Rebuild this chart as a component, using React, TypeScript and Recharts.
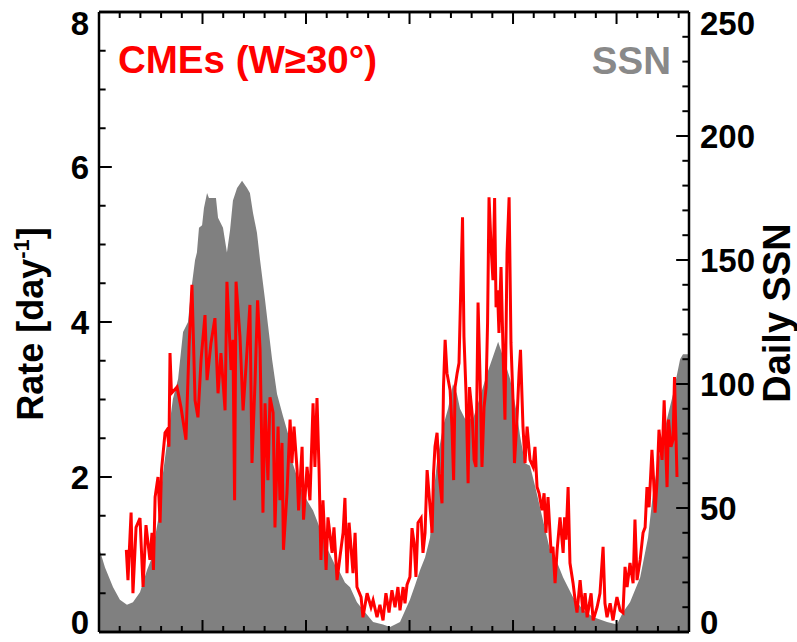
import React from 'react';
import { ComposedChart, Area, Line, XAxis, YAxis, ReferenceLine } from 'recharts';

// Daily sunspot number (smoothed envelope)
const ssnYears = [
  1995.0, 1995.29, 1995.68, 1996.01, 1996.35, 1996.64, 1996.98, 1997.32, 1997.51, 1997.85,
  1998.09, 1998.33, 1998.57, 1998.82, 1999.06, 1999.3, 1999.44, 1999.64, 1999.73, 1999.83,
  1999.98, 2000.07, 2000.22, 2000.31, 2000.51, 2000.65, 2000.75, 2000.99, 2001.18, 2001.33,
  2001.47, 2001.67, 2001.91, 2002.15, 2002.29, 2002.44, 2002.63, 2002.78, 2003.02, 2003.16,
  2003.36, 2003.6, 2003.89, 2004.13, 2004.32, 2004.71, 2005.05, 2005.34, 2005.53, 2006.01,
  2006.4, 2006.64, 2006.88, 2007.13, 2007.46, 2007.75, 2008.24, 2008.72, 2009.06, 2009.54,
  2010.02, 2010.27, 2010.51, 2010.75, 2010.99, 2011.14, 2011.33, 2011.62, 2011.86, 2012.1,
  2012.29, 2012.44, 2012.68, 2013.07, 2013.41, 2013.74, 2014.03, 2014.28, 2014.52, 2014.86,
  2015.19, 2015.34, 2015.58, 2015.82, 2016.06, 2016.45, 2016.79, 2017.13, 2017.42, 2017.9,
  2018.38, 2018.86, 2019.54, 2020.02, 2020.31, 2020.65, 2021.14, 2021.52, 2021.76, 2022.1,
  2022.44, 2022.73, 2023.07, 2023.21, 2023.5,
];
const ssnValues = [
  34, 26, 18, 13, 11, 12, 16, 25, 29, 45,
  64, 79, 94, 102, 121, 125, 137, 150, 153, 163,
  164, 171, 177, 175, 175, 175, 167, 163, 153, 162,
  174, 179, 182, 179, 177, 169, 161, 150, 134, 124,
  110, 96, 87, 80, 69, 59, 53, 49, 45, 34,
  27, 24, 20, 18, 12, 9, 4, 3, 2, 4,
  13, 19, 25, 30, 38, 54, 69, 83, 90, 100,
  96, 90, 86, 86, 95, 104, 111, 117, 111, 102,
  88, 79, 68, 67, 59, 45, 33, 28, 22, 14,
  9, 6, 4, 3, 8, 12, 22, 38, 56, 73,
  86, 96, 110, 112, 112,
];

// CME rate, width >= 30 degrees
const cmeYears = [
  1996.32, 1996.4, 1996.55, 1996.64, 1996.79, 1996.98, 1997.13, 1997.27, 1997.46, 1997.56,
  1997.63, 1997.71, 1997.85, 1997.95, 1998.02, 1998.19, 1998.29, 1998.38, 1998.43, 1998.5,
  1998.77, 1998.96, 1999.2, 1999.35, 1999.49, 1999.64, 1999.78, 1999.93, 2000.12, 2000.22,
  2000.41, 2000.6, 2000.75, 2000.89, 2001.09, 2001.18, 2001.38, 2001.47, 2001.55, 2001.62,
  2001.81, 2001.96, 2002.1, 2002.29, 2002.39, 2002.54, 2002.66, 2002.78, 2002.92, 2003.02,
  2003.16, 2003.26, 2003.41, 2003.5, 2003.65, 2003.74, 2003.84, 2003.91, 2004.08, 2004.23,
  2004.32, 2004.42, 2004.57, 2004.64, 2004.81, 2004.88, 2005.05, 2005.19, 2005.34, 2005.43,
  2005.53, 2005.63, 2005.72, 2005.82, 2005.97, 2006.06, 2006.26, 2006.35, 2006.5, 2006.64,
  2006.79, 2006.88, 2006.98, 2007.08, 2007.27, 2007.37, 2007.46, 2007.66, 2007.75, 2007.95,
  2008.14, 2008.24, 2008.43, 2008.57, 2008.72, 2008.86, 2009.01, 2009.15, 2009.3, 2009.44,
  2009.54, 2009.69, 2009.78, 2009.88, 2010.02, 2010.12, 2010.22, 2010.31, 2010.41, 2010.56,
  2010.65, 2010.75, 2010.85, 2010.94, 2011.09, 2011.16, 2011.23, 2011.33, 2011.43, 2011.57,
  2011.64, 2011.72, 2011.81, 2011.96, 2012.05, 2012.13, 2012.2, 2012.3, 2012.39, 2012.49,
  2012.56, 2012.63, 2012.73, 2012.83, 2012.9, 2013.02, 2013.12, 2013.21, 2013.31, 2013.41,
  2013.5, 2013.6, 2013.7, 2013.77, 2013.84, 2013.94, 2014.03, 2014.11, 2014.18, 2014.25,
  2014.32, 2014.42, 2014.52, 2014.61, 2014.71, 2014.81, 2014.9, 2015.0, 2015.07, 2015.19,
  2015.29, 2015.36, 2015.48, 2015.58, 2015.68, 2015.82, 2015.97, 2016.06, 2016.16, 2016.26,
  2016.4, 2016.5, 2016.59, 2016.69, 2016.84, 2016.93, 2017.03, 2017.13, 2017.27, 2017.42,
  2017.49, 2017.56, 2017.66, 2017.75, 2017.9, 2018.0, 2018.09, 2018.24, 2018.38, 2018.48,
  2018.58, 2018.77, 2018.87, 2019.06, 2019.2, 2019.35, 2019.44, 2019.54, 2019.69, 2019.83,
  2019.93, 2020.02, 2020.17, 2020.31, 2020.41, 2020.51, 2020.65, 2020.8, 2020.89, 2020.99,
  2021.14, 2021.28, 2021.38, 2021.47, 2021.57, 2021.71, 2021.79, 2021.86, 2021.96, 2022.05,
  2022.2, 2022.3, 2022.44, 2022.51, 2022.63, 2022.73, 2022.8, 2022.92,
];
const cmeRates = [
  1.06, 0.67, 1.54, 0.5, 1.35, 1.47, 0.58, 1.38, 0.93, 1.28,
  0.8, 1.74, 2.0, 1.41, 2.09, 2.57, 2.61, 2.39, 3.6, 3.08,
  3.16, 2.9, 2.48, 3.68, 4.48, 2.99, 2.77, 3.51, 4.09, 3.25,
  3.73, 4.05, 3.08, 3.6, 2.86, 4.52, 3.38, 3.77, 1.7, 4.52,
  3.81, 2.86, 3.42, 4.22, 2.18, 3.25, 4.28, 3.64, 1.54, 2.95,
  1.96, 3.03, 2.83, 1.35, 2.65, 1.7, 2.44, 1.06, 1.79, 2.74,
  2.18, 2.65, 2.09, 1.57, 2.39, 1.45, 2.13, 1.7, 2.95, 2.13,
  3.02, 2.09, 0.93, 1.7, 0.8, 1.48, 1.02, 1.35, 0.67, 0.97,
  1.28, 1.73, 0.76, 1.41, 0.76, 1.28, 0.58, 0.45, 0.19, 0.5,
  0.32, 0.41, 0.19, 0.35, 0.15, 0.5, 0.25, 0.54, 0.32, 0.58,
  0.28, 0.58, 0.37, 0.61, 0.71, 1.34, 1.15, 0.71, 1.41, 1.47,
  1.02, 1.28, 2.09, 1.79, 1.28, 2.05, 2.39, 2.57, 2.05, 1.66,
  3.16, 3.77, 3.34, 3.12, 2.65, 1.96, 3.16, 3.34, 3.47, 4.58,
  5.35, 3.81, 3.08, 1.92, 3.16, 2.83, 2.22, 2.13, 4.25, 3.25,
  2.13, 2.9, 3.16, 3.99, 5.61, 4.97, 4.54, 5.6, 4.19, 4.41,
  3.86, 4.71, 3.6, 2.74, 4.89, 5.61, 3.73, 2.99, 2.18, 2.74,
  3.34, 3.64, 2.65, 2.18, 2.65, 2.22, 2.13, 2.39, 1.87, 1.79,
  1.57, 1.79, 1.28, 1.74, 1.02, 1.1, 0.63, 1.06, 1.48, 1.02,
  1.48, 1.19, 1.87, 0.89, 0.63, 0.41, 0.25, 0.67, 0.25, 0.5,
  0.19, 0.5, 0.15, 0.32, 0.5, 1.1, 0.37, 0.19, 0.37, 0.15,
  0.32, 0.45, 0.28, 0.25, 0.84, 0.58, 0.89, 0.63, 1.45, 0.67,
  0.93, 1.28, 1.35, 1.87, 1.61, 2.35, 1.96, 1.54, 1.96, 2.61,
  2.22, 2.99, 1.87, 2.74, 2.39, 2.48, 3.29, 2.0,
];

// Axis ticks
const yearMajorTicks = [1995, 2000, 2005, 2010, 2015, 2020];
const yearMinorTicks = [
  1996, 1997, 1998, 1999, 2001, 2002, 2003, 2004, 2006, 2007, 2008, 2009,
  2011, 2012, 2013, 2014, 2016, 2017, 2018, 2019, 2021, 2022, 2023,
];
const rateTicks = [0, 2, 4, 6, 8];
const rateMinorTicks = [0.5, 1, 1.5, 2.5, 3, 3.5, 4.5, 5, 5.5, 6.5, 7, 7.5];
const ssnTicks = [0, 50, 100, 150, 200, 250];
const ssnMinorTicks = [
  10, 20, 30, 40, 60, 70, 80, 90, 110, 120, 130, 140, 160, 170, 180, 190, 210, 220, 230, 240,
];

const ssnData = ssnYears.map((year, i) => ({ year, ssn: ssnValues[i] }));
const cmeData = cmeYears.map((year, i) => ({ year, rate: cmeRates[i] }));

const FONT = '"Liberation Sans", Arial, Helvetica, sans-serif';
const YEAR_START = 1995;
const YEAR_END = 2023.5;
const YEAR_DOMAIN: [number, number] = [YEAR_START, YEAR_END];
const THIN = 0.01;

// Lengths of the inward tick marks on the value axes, in years along the time axis
const MAJOR_TICK_YEARS = 0.62;
const MINOR_TICK_YEARS = 0.32;

// Tick label that keeps the extreme labels inside the frame
const makeTick = (max: number) => (props: any) => {
  const { x, y, payload, textAnchor } = props;
  let shift = 0;
  if (payload.value === max) shift = 11;
  else if (payload.value === 0) shift = -10;
  return (
    <text
      x={x}
      y={y + shift}
      dy="0.36em"
      textAnchor={textAnchor}
      fontFamily={FONT}
      fontWeight="bold"
      fontSize={33}
      fill="#000"
    >
      {payload.value}
    </text>
  );
};

const NoLabel = () => <g />;

const axisLine = { stroke: '#000', strokeWidth: 2.5 };
const tickLine = { stroke: '#000', strokeWidth: 2 };

// Inward-pointing tick marks drawn by a thin mirrored time axis
const yearTickAxis = (id: string, orientation: 'top' | 'bottom', ticks: number[], size: number) => (
  <XAxis
    key={id}
    xAxisId={id}
    type="number"
    dataKey="year"
    domain={YEAR_DOMAIN}
    allowDataOverflow
    orientation={orientation}
    mirror
    height={THIN}
    ticks={ticks}
    interval={0}
    tickSize={size}
    tick={NoLabel}
    axisLine={axisLine}
    tickLine={tickLine}
  />
);

// Inward tick marks on a value axis
const valueTicks = (axisId: string, side: 'left' | 'right', values: number[], len: number) =>
  values.map((v) => {
    const x0 = side === 'left' ? YEAR_START : YEAR_END;
    const x1 = side === 'left' ? YEAR_START + len : YEAR_END - len;
    return (
      <ReferenceLine
        key={`${axisId}-${v}`}
        xAxisId="main"
        yAxisId={axisId}
        segment={[
          { x: x0, y: v },
          { x: x1, y: v },
        ]}
        stroke="#000"
        strokeWidth={2}
        ifOverflow="visible"
      />
    );
  });

export default function App() {
  return (
    <div style={{ position: 'absolute', left: 0, top: 0, width: 797, height: 642, background: '#fff' }}>
      <ComposedChart
        width={797}
        height={642}
        margin={{ top: 12, right: 38, bottom: 10, left: 39 }}
      >
        <XAxis
          xAxisId="main"
          type="number"
          dataKey="year"
          domain={YEAR_DOMAIN}
          allowDataOverflow
          hide
        />
        {yearTickAxis('bottomMajor', 'bottom', yearMajorTicks, 12)}
        {yearTickAxis('bottomMinor', 'bottom', yearMinorTicks, 6)}
        {yearTickAxis('topMajor', 'top', yearMajorTicks, 12)}
        {yearTickAxis('topMinor', 'top', yearMinorTicks, 6)}
        <YAxis
          yAxisId="rate"
          orientation="left"
          type="number"
          domain={[0, 8]}
          width={60}
          ticks={rateTicks}
          interval={0}
          tickSize={0}
          tickMargin={10}
          tick={makeTick(8)}
          axisLine={axisLine}
          tickLine={false}
        />
        <YAxis
          yAxisId="ssn"
          orientation="right"
          type="number"
          domain={[0, 250]}
          width={70}
          ticks={ssnTicks}
          interval={0}
          tickSize={0}
          tickMargin={11}
          tick={makeTick(250)}
          axisLine={axisLine}
          tickLine={false}
        />
        <Area
          data={ssnData}
          xAxisId="main"
          yAxisId="ssn"
          dataKey="ssn"
          type="linear"
          fill="#808080"
          fillOpacity={1}
          stroke="none"
          baseValue={0}
          isAnimationActive={false}
        />
        <Line
          data={cmeData}
          xAxisId="main"
          yAxisId="rate"
          dataKey="rate"
          type="linear"
          stroke="#ff0000"
          strokeWidth={3}
          dot={false}
          strokeLinejoin="miter"
          isAnimationActive={false}
        />
        {valueTicks('rate', 'left', rateTicks, MAJOR_TICK_YEARS)}
        {valueTicks('rate', 'left', rateMinorTicks, MINOR_TICK_YEARS)}
        {valueTicks('ssn', 'right', ssnTicks, MAJOR_TICK_YEARS)}
        {valueTicks('ssn', 'right', ssnMinorTicks, MINOR_TICK_YEARS)}
      </ComposedChart>
      <svg
        width={797}
        height={642}
        style={{ position: 'absolute', left: 0, top: 0, pointerEvents: 'none' }}
      >
        <text x={118} y={73} fontFamily={FONT} fontWeight="bold" fontSize={38.5} fill="#ff0000">
          CMEs (W≥30°)
        </text>
        <text x={671} y={74} textAnchor="end" fontFamily={FONT} fontWeight="bold" fontSize={38.5} fill="#898989">
          SSN
        </text>
        <text
          x={43}
          y={324}
          transform="rotate(-90 43 324)"
          textAnchor="middle"
          fontFamily={FONT}
          fontWeight="bold"
          fontSize={36}
          fill="#000"
        >
          Rate [day<tspan fontSize={22} dy={-14}>-1</tspan><tspan dy={14}>]</tspan>
        </text>
        <text
          x={790}
          y={313}
          transform="rotate(-90 790 313)"
          textAnchor="middle"
          fontFamily={FONT}
          fontWeight="bold"
          fontSize={38}
          fill="#000"
        >
          Daily SSN
        </text>
      </svg>
    </div>
  );
}
